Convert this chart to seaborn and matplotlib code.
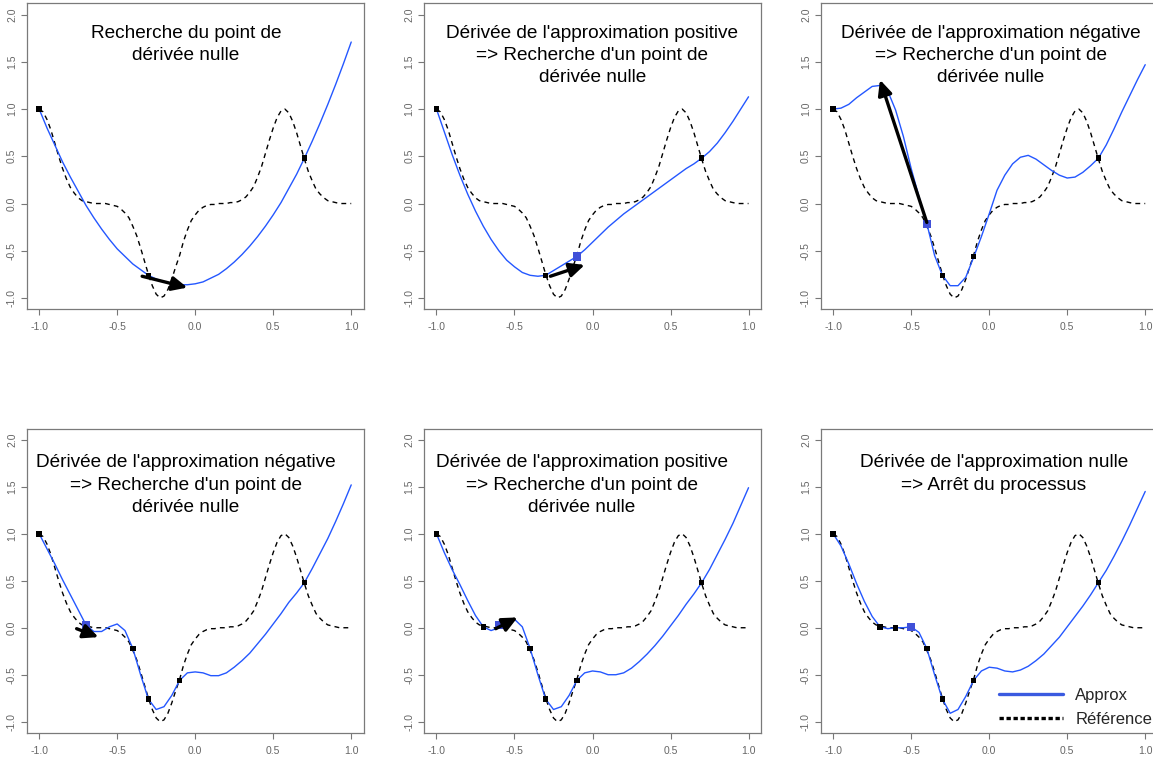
import numpy as np
import seaborn as sns
import matplotlib.pyplot as plt
from matplotlib.lines import Line2D

ref_x = np.round(np.arange(-1, 1.0001, 0.025), 3)
approx_x = np.round(np.arange(-1, 1.0001, 0.05), 2)

# reference function (dashed)
ref_y = [1.00, 0.97, 0.89, 0.78, 0.64, 0.50, 0.37, 0.26, 0.17, 0.11,
         0.06, 0.03, 0.02, 0.01, 0.00, 0.00, 0.00, 0.00, -0.01, -0.02,
         -0.03, -0.06, -0.10, -0.15, -0.24, -0.34, -0.47, -0.61, -0.75, -0.87,
         -0.96, -1.00, -0.98, -0.91, -0.80, -0.67, -0.55, -0.40, -0.28, -0.18,
         -0.12, -0.07, -0.04, -0.02, -0.01, -0.01, 0.00, 0.00, 0.00, 0.01,
         0.01, 0.02, 0.04, 0.07, 0.12, 0.18, 0.28, 0.39, 0.53, 0.67,
         0.80, 0.91, 0.98, 1.00, 0.96, 0.87, 0.75, 0.61, 0.47, 0.34,
         0.24, 0.15, 0.10, 0.06, 0.03, 0.02, 0.01, 0.00, 0.00, 0.00, 0.00]

# approximations (blue), one per panel
approx_1 = [1.00, 0.80, 0.62, 0.44, 0.28, 0.13, -0.02, -0.15, -0.27, -0.38,
            -0.48, -0.56, -0.64, -0.70, -0.76, -0.80, -0.83, -0.85, -0.86, -0.86,
            -0.85, -0.83, -0.79, -0.75, -0.69, -0.62, -0.54, -0.45, -0.35, -0.24,
            -0.12, 0.01, 0.16, 0.31, 0.48, 0.66, 0.85, 1.05, 1.26, 1.48, 1.71]
approx_2 = [1.00, 0.76, 0.52, 0.30, 0.10, -0.08, -0.24, -0.38, -0.50, -0.60,
            -0.67, -0.73, -0.76, -0.77, -0.76, -0.71, -0.66, -0.61, -0.56, -0.49,
            -0.41, -0.33, -0.25, -0.18, -0.11, -0.05, 0.01, 0.07, 0.13, 0.19,
            0.25, 0.31, 0.37, 0.42, 0.48, 0.55, 0.64, 0.75, 0.87, 1.00, 1.13]
approx_3 = [1.00, 1.01, 1.05, 1.12, 1.18, 1.24, 1.25, 1.19, 0.99, 0.71,
            0.37, 0.07, -0.21, -0.55, -0.76, -0.87, -0.87, -0.78, -0.57, -0.35,
            -0.11, 0.14, 0.30, 0.42, 0.49, 0.51, 0.47, 0.41, 0.35, 0.30,
            0.27, 0.28, 0.33, 0.40, 0.48, 0.62, 0.79, 0.97, 1.14, 1.31, 1.47]
approx_4 = [1.00, 0.84, 0.68, 0.51, 0.35, 0.19, 0.03, -0.04, -0.04, 0.01,
            0.04, -0.03, -0.22, -0.50, -0.76, -0.87, -0.84, -0.72, -0.56, -0.48,
            -0.47, -0.48, -0.51, -0.51, -0.48, -0.42, -0.35, -0.27, -0.17, -0.07,
            0.04, 0.15, 0.27, 0.37, 0.48, 0.63, 0.79, 0.95, 1.13, 1.32, 1.52]
approx_5 = [1.00, 0.80, 0.62, 0.46, 0.29, 0.13, 0.01, -0.03, 0.00, 0.05,
            0.09, 0.01, -0.22, -0.50, -0.76, -0.87, -0.84, -0.72, -0.56, -0.48,
            -0.46, -0.47, -0.50, -0.50, -0.48, -0.43, -0.36, -0.28, -0.19, -0.09,
            0.02, 0.13, 0.25, 0.36, 0.48, 0.62, 0.78, 0.94, 1.11, 1.30, 1.49]
approx_6 = [1.00, 0.87, 0.68, 0.47, 0.28, 0.12, 0.01, -0.01, 0.00, 0.00,
            0.01, -0.05, -0.22, -0.50, -0.76, -0.91, -0.87, -0.73, -0.56, -0.46,
            -0.42, -0.43, -0.46, -0.47, -0.45, -0.41, -0.35, -0.28, -0.19, -0.10,
            0.01, 0.12, 0.23, 0.35, 0.48, 0.61, 0.76, 0.92, 1.09, 1.27, 1.45]
approx_curves = [approx_1, approx_2, approx_3, approx_4, approx_5, approx_6]

# evaluated points of the reference
sample_x = [-1.0, -0.7, -0.6, -0.4, -0.3, -0.1, 0.7]
sample_y = [1.00, 0.01, 0.00, -0.22, -0.76, -0.56, 0.48]
panel_samples = [
    [-1.0, -0.3, 0.7],
    [-1.0, -0.3, 0.7],
    [-1.0, -0.3, -0.1, 0.7],
    [-1.0, -0.4, -0.3, -0.1, 0.7],
    [-1.0, -0.7, -0.4, -0.3, -0.1, 0.7],
    [-1.0, -0.7, -0.6, -0.4, -0.3, -0.1, 0.7],
]

# candidate point (blue square) per panel
cand_x = [None, -0.1, -0.4, -0.7, -0.6, -0.5]
cand_y = [None, -0.56, -0.22, 0.03, 0.03, 0.01]

# gradient arrows: start -> end
arrow_x0 = [-0.34, -0.27, -0.40, -0.76, -0.62, None]
arrow_y0 = [-0.77, -0.77, -0.20, -0.01, -0.01, None]
arrow_x1 = [-0.05, -0.05, -0.70, -0.62, -0.48, None]
arrow_y1 = [-0.89, -0.65, 1.31, -0.10, 0.11, None]

titles = [
    "Recherche du point de\ndérivée nulle",
    "Dérivée de l'approximation positive\n=> Recherche d'un point de\ndérivée nulle",
    "Dérivée de l'approximation négative\n=> Recherche d'un point de\ndérivée nulle",
    "Dérivée de l'approximation négative\n=> Recherche d'un point de\ndérivée nulle",
    "Dérivée de l'approximation positive\n=> Recherche d'un point de\ndérivée nulle",
    "Dérivée de l'approximation nulle\n=> Arrêt du processus",
]
title_pos = [(-0.06, 1.895), (0.0, 1.895), (0.01, 1.895),
             (-0.06, 1.845), (-0.07, 1.845), (0.03, 1.845)]

xticks = [-1.0, -0.5, 0.0, 0.5, 1.0]
yticks = [-1.0, -0.5, 0.0, 0.5, 1.0, 1.5, 2.0]

sns.set_theme(style="white")
plt.rcParams['font.family'] = ['Liberation Sans', 'DejaVu Sans']

W, H = 1153, 757
fig = plt.figure(figsize=(W / 100, H / 100), dpi=100)
fig.patch.set_facecolor('white')

# panel boxes in pixels: left, top, width, height
boxes = [(26.7, 3.3, 337, 306), (424, 3.3, 337, 306), (820.7, 3.3, 337, 306),
         (26.7, 428.5, 337, 304.5), (424, 428.5, 337, 304.5), (820.7, 428.5, 337, 304.5)]

blue = '#2457ff'
for i, (l, t, w, h) in enumerate(boxes):
    ax = fig.add_axes([l / W, 1 - (t + h) / H, w / W, h / H])

    sns.lineplot(x=ref_x, y=ref_y, ax=ax, color='black', lw=1.0,
                 linestyle=(0, (3.5, 3)))
    sns.lineplot(x=approx_x, y=approx_curves[i], ax=ax, color=blue, lw=1.0)

    px = panel_samples[i]
    py = [sample_y[sample_x.index(v)] for v in px]
    sns.scatterplot(x=px, y=py, ax=ax, marker='s', s=16, color='black',
                    edgecolor='none', zorder=4)
    if cand_x[i] is not None:
        sns.scatterplot(x=[cand_x[i]], y=[cand_y[i]], ax=ax, marker='s', s=36,
                        color='#4050d8', edgecolor='none', zorder=5)
    if arrow_x0[i] is not None:
        ax.annotate('', xy=(arrow_x1[i], arrow_y1[i]), xytext=(arrow_x0[i], arrow_y0[i]),
                    arrowprops=dict(arrowstyle='-|>,head_length=0.75,head_width=0.35',
                                    lw=2.4, color='black', mutation_scale=12,
                                    shrinkA=0, shrinkB=0), zorder=6)

    tx, ty = title_pos[i]
    ax.text(tx, ty, titles[i], ha='center', va='top', fontsize=13.7,
            linespacing=1.4, color='black')

    ax.set_xlim(-1.08, 1.08)
    ax.set_ylim(-1.12, 2.12)
    ax.set_xticks(xticks)
    ax.set_xticklabels([f"{v:.1f}" for v in xticks])
    ax.set_yticks(yticks)
    ax.set_yticklabels([f"{v:.1f}" for v in yticks], rotation=90, va='center')
    ax.tick_params(bottom=True, left=True, direction='out', length=4, width=0.8,
                   color='#777777', labelcolor='#666666', labelsize=7.5)
    ax.tick_params(axis='x', pad=5)
    ax.tick_params(axis='y', pad=3)
    ax.set_xlabel('')
    ax.set_ylabel('')
    for sp in ax.spines.values():
        sp.set_color('#7a7a7a')
        sp.set_linewidth(0.9)

    if i == 5:
        handles = [Line2D([], [], color='#3a5ae0', lw=2.4),
                   Line2D([], [], color='black', lw=2.4, linestyle=(0, (1.3, 0.8)))]
        ax.legend(handles, ['Approx', 'Référence'], loc='lower left',
                  bbox_to_anchor=(0.53, 0.02), frameon=False, fontsize=12,
                  handlelength=3.8, handletextpad=0.75, labelspacing=0.55,
                  borderpad=0, borderaxespad=0)

fig.savefig('out.png', dpi=100, facecolor='white')
